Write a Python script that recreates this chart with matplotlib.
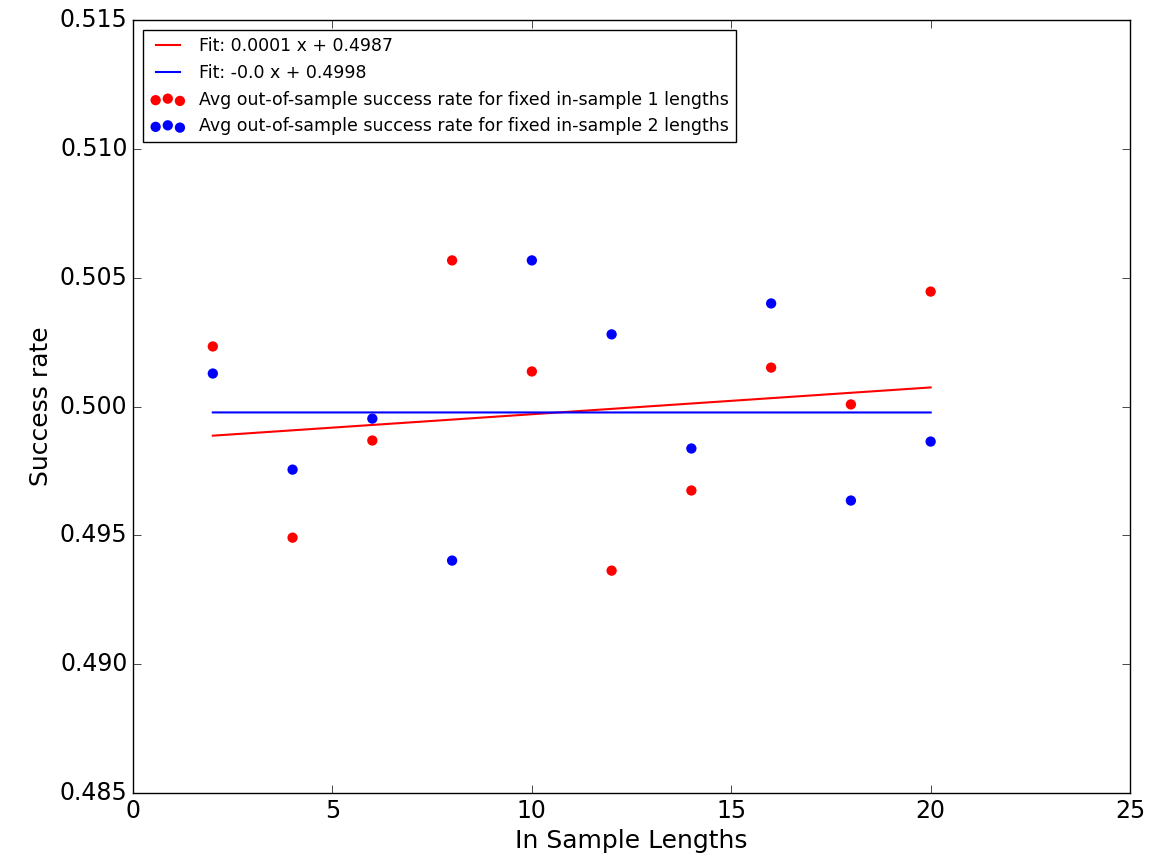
import matplotlib
matplotlib.use("Agg")
import matplotlib.pyplot as plt
import numpy as np

plt.style.use("classic")

# in-sample lengths
lengths = [2, 4, 6, 8, 10, 12, 14, 16, 18, 20]

# avg out-of-sample success rates
rate1 = [0.50233, 0.49491, 0.49868, 0.50567, 0.50136,
         0.49363, 0.49674, 0.50151, 0.50008, 0.50446]
rate2 = [0.50128, 0.49755, 0.49953, 0.49402, 0.50567,
         0.50280, 0.49837, 0.50400, 0.49635, 0.49864]

# fit coefficients (slope, intercept)
fit1 = (0.000104, 0.49866)
fit2 = (-0.0000001, 0.49977)

fig = plt.figure(figsize=(11.53, 8.66), dpi=100, facecolor="white")
ax = fig.add_axes([0.1154, 0.0843, 0.8647, 0.8926])

x = np.array(lengths)
ax.plot(x, fit1[0] * x + fit1[1], color="red", lw=1.5,
        label="Fit: %s x + %s" % (round(fit1[0], 4), round(fit1[1], 4)))
ax.plot(x, fit2[0] * x + fit2[1], color="blue", lw=1.5,
        label="Fit: %s x + %s" % (round(fit2[0], 4), round(fit2[1], 4)))
ax.scatter(lengths, rate1, s=55, c="red", edgecolors="none",
           label="Avg out-of-sample success rate for fixed in-sample 1 lengths")
ax.scatter(lengths, rate2, s=55, c="blue", edgecolors="none",
           label="Avg out-of-sample success rate for fixed in-sample 2 lengths")

ax.set_xlim(0, 25)
ax.set_ylim(0.485, 0.515)
ax.set_yticks(np.arange(0.485, 0.5151, 0.005))
ax.yaxis.set_major_formatter(matplotlib.ticker.FormatStrFormatter("%.3f"))
ax.tick_params(labelsize=17, length=6)
ax.set_xlabel("In Sample Lengths", fontsize=18)
ax.set_ylabel("Success rate", fontsize=18)

ax.legend(loc=2, fontsize=12.5, scatterpoints=3, borderaxespad=0.6)

fig.savefig("out.png", dpi=100, facecolor="white")
